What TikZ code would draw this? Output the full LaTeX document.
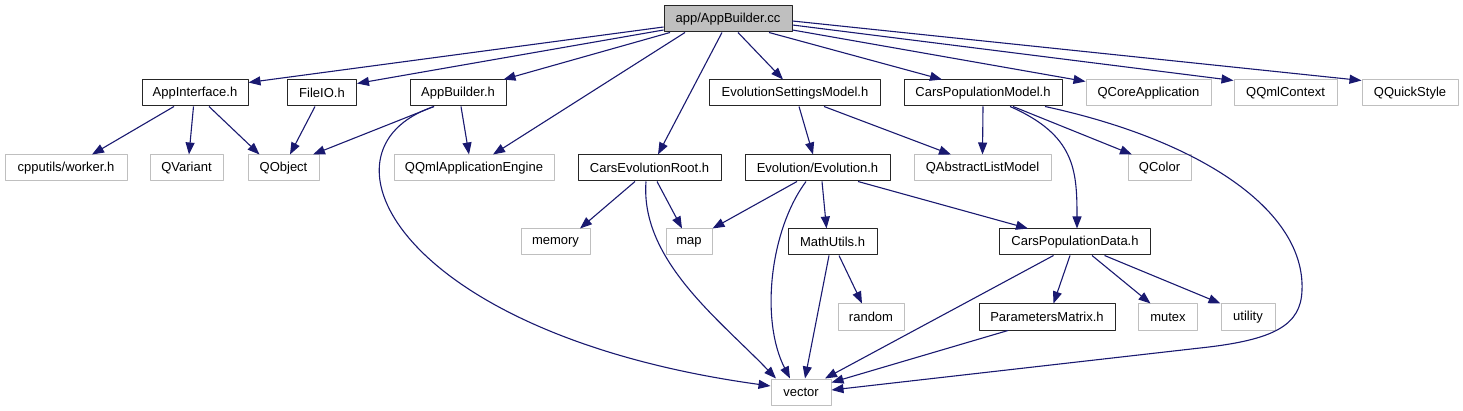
\documentclass[tikz,border=0pt]{standalone}
\usepackage{fontspec}
\setmainfont{Liberation Sans}
\usepackage{xcolor}
\usepackage{tikz}
\usetikzlibrary{arrows.meta,calc}
\definecolor{dxedge}{RGB}{25,25,112}
\definecolor{dxgrey}{RGB}{191,191,191}
\tikzset{
  incbox/.style={
    line width=1pt, minimum height=26pt, inner sep=0pt,
    font=\fontsize{13}{15}\selectfont, text=black
  },
  loc/.style={incbox, draw=black!85, fill=white},
  sys/.style={incbox, draw=dxgrey, fill=white},
  rootbox/.style={incbox, draw=black!85, fill=dxgrey},
  dep/.style={-{Triangle[length=12pt,width=9pt]}, draw=dxedge, line width=1.1pt},
  every picture/.append style={line join=round}
}
\begin{document}
\begin{tikzpicture}[x=1pt,y=-1pt]
  \useasboundingbox (0,0) rectangle (1463,411);
  % top
  \node[rootbox, minimum width=128pt] (appcc) at (728,19) {app/AppBuilder.cc};
  % first level
  \node[loc, minimum width=106pt] (appif) at (195,93) {AppInterface.h};
  \node[loc, minimum width=69pt] (fileio) at (322,93) {FileIO.h};
  \node[loc, minimum width=96pt] (appbh) at (458,93) {AppBuilder.h};
  \node[loc, minimum width=171pt] (esm) at (795,93) {EvolutionSettingsModel.h};
  \node[loc, minimum width=158pt] (cpm) at (983,93) {CarsPopulationModel.h};
  \node[sys, minimum width=125pt] (qcore) at (1148.5,93) {QCoreApplication};
  \node[sys, minimum width=103pt] (qctx) at (1285.5,93) {QQmlContext};
  \node[sys, minimum width=96pt] (qstyle) at (1410,93) {QQuickStyle};
  % second level
  \node[sys, minimum width=122pt] (worker) at (66,168) {cpputils/worker.h};
  \node[sys, minimum width=73pt] (qvar) at (186.5,168) {QVariant};
  \node[sys, minimum width=71pt] (qobj) at (283.5,168) {QObject};
  \node[sys, minimum width=160pt] (qqae) at (474,168) {QQmlApplicationEngine};
  \node[loc, minimum width=143pt] (cer) at (649.5,168) {CarsEvolutionRoot.h};
  \node[loc, minimum width=145pt] (evo) at (817.5,168) {Evolution/Evolution.h};
  \node[sys, minimum width=137pt] (qalm) at (982.5,168) {QAbstractListModel};
  \node[sys, minimum width=63pt] (qcolor) at (1159.5,168) {QColor};
  % third level
  \node[sys, minimum width=69pt] (memory) at (555.5,242) {memory};
  \node[sys, minimum width=46pt] (map) at (689,242) {map};
  \node[loc, minimum width=89pt] (mathu) at (832.5,242) {MathUtils.h};
  \node[loc, minimum width=151pt] (cpd) at (1075,242) {CarsPopulationData.h};
  % fourth level
  \node[sys, minimum width=66pt] (random) at (871,317) {random};
  \node[loc, minimum width=136pt] (pmat) at (1047,317) {ParametersMatrix.h};
  \node[sys, minimum width=59pt] (mutex) at (1168,317) {mutex};
  \node[sys, minimum width=54pt] (utility) at (1248,317) {utility};
  \node[sys, minimum width=60pt] (vector) at (801,392) {vector};

  % app/AppBuilder.cc
  \draw[dep] ([yshift=-8pt]appcc.west) -- ([yshift=-3pt]appif.north east);
  \draw[dep] ([yshift=-11pt]appcc.west) -- ([yshift=-4pt]fileio.north east);
  \draw[dep] ([xshift=-58pt]appcc.south) -- ([xshift=-3pt]appbh.north east);
  \draw[dep] ([xshift=-43pt]appcc.south) -- ([xshift=19pt]qqae.north);
  \draw[dep] ([xshift=-6pt]appcc.south) -- ([xshift=8.5pt]cer.north);
  \draw[dep] ([xshift=10pt]appcc.south) -- ([xshift=-12pt]esm.north);
  \draw[dep] ([xshift=41pt]appcc.south) -- ([xshift=-41pt]cpm.north);
  \draw[dep] ([yshift=-11pt]appcc.east) -- ([yshift=-2pt]qcore.north west);
  \draw[dep] ([yshift=-6pt]appcc.east) -- ([yshift=-1pt]qctx.north west);
  \draw[dep] ([yshift=-2pt]appcc.east) -- ([yshift=-1pt]qstyle.north west);

  \draw[dep] ([xshift=-21pt]appif.south) -- ([xshift=26pt]worker.north);
  \draw[dep] ([xshift=-1.5pt]appif.south) -- ([xshift=2.5pt]qvar.north);
  \draw[dep] ([xshift=14pt]appif.south) -- ([xshift=-24pt]qobj.north);
  \draw[dep] ([xshift=-7pt]fileio.south) -- ([xshift=6.5pt]qobj.north);
  \draw[dep] ([xshift=-24pt]appbh.south) -- ([xshift=29.5pt]qobj.north);
  \draw[dep] ([xshift=3pt]appbh.south) -- ([xshift=-5pt]qqae.north);
  \draw[dep] ([xshift=-24pt]appbh.south) .. controls (305,150) and (400,335) .. ([yshift=6pt]vector.west);

  \draw[dep] ([xshift=-14.5pt]cer.south) -- ([xshift=24.5pt]memory.north);
  \draw[dep] ([xshift=7.5pt]cer.south) -- ([xshift=-7pt]map.north);
  \draw[dep] ([xshift=-3.5pt]cer.south) .. controls (640,260) and (720,320) .. ([xshift=-25pt]vector.north);

  \draw[dep] ([xshift=4pt]esm.south) -- ([xshift=-4.5pt]evo.north);
  \draw[dep] ([xshift=29pt]esm.south) -- ([xshift=-31.5pt]qalm.north);
  \draw[dep] (cpm.south) -- (qalm.north);
  \draw[dep] ([xshift=30pt]cpm.south) -- ([xshift=-27.5pt]qcolor.north);
  \draw[dep] ([xshift=27pt]cpm.south) .. controls (1075,135) and (1077,170) .. ([xshift=2pt]cpd.north);
  \draw[dep] ([xshift=62pt]cpm.south) .. controls (1200,140) and (1305,210) .. (1302,290)
    .. controls (1301,325) and (1275,340) .. (1200,348) -- ([yshift=2pt]vector.east);

  \draw[dep] ([xshift=-20.5pt]evo.south) -- (map.north east);
  \draw[dep] ([xshift=-11.5pt]evo.south) .. controls (770,230) and (760,320) .. ([xshift=-11pt]vector.north);
  \draw[dep] ([xshift=4.5pt]evo.south) -- ([xshift=-6pt]mathu.north);
  \draw[dep] ([xshift=40.5pt]evo.south) -- ([xshift=-47pt]cpd.north);

  \draw[dep] ([xshift=-3.5pt]mathu.south) -- ([xshift=4pt]vector.north);
  \draw[dep] ([xshift=6.5pt]mathu.south) -- ([xshift=-9pt]random.north);
  \draw[dep] ([xshift=-21.5pt]cpd.south) -- ([xshift=24pt]vector.north);
  \draw[dep] ([xshift=-5pt]cpd.south) -- ([xshift=6.5pt]pmat.north);
  \draw[dep] ([xshift=17pt]cpd.south) -- ([xshift=-17.5pt]mutex.north);
  \draw[dep] ([xshift=29.5pt]cpd.south) -- (utility.north west);
  \draw[dep] ([xshift=-39pt]pmat.south) -- ([yshift=-4pt]vector.north east);
\end{tikzpicture}
\end{document}
